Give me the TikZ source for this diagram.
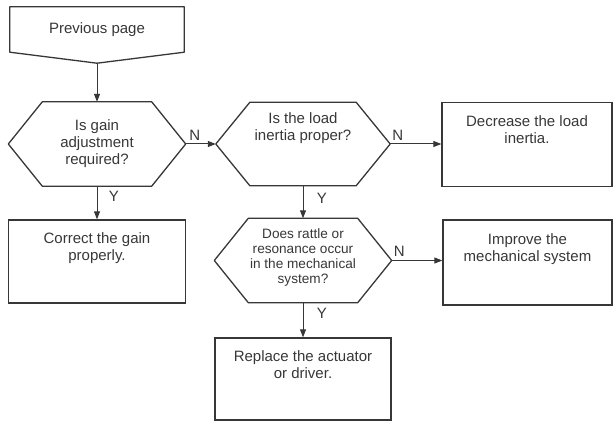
\documentclass[tikz,border=0pt]{standalone}
\usepackage{fontspec}
\setmainfont{Liberation Sans}
\usetikzlibrary{arrows.meta}
\definecolor{InkGray}{RGB}{55, 55, 55}

\begin{document}
\begin{tikzpicture}[x=1pt, y=-1pt,
        decision/.style={minimum width=177pt, minimum height=84pt, inner sep=0pt, align=center, text=InkGray, font=\fontsize{15}{17}\selectfont},
        action/.style={draw=InkGray, line width=1.3pt, minimum width=174pt, minimum height=84pt, align=center, text depth=29pt, text=InkGray, font=\fontsize{15}{17}\selectfont},
        outline/.style={line width=1.3pt, InkGray, line join=round},
        arr/.style={-{Triangle[length=8pt, width=6pt]}, line width=1pt, InkGray},
        yn/.style={font=\fontsize{15}{15}\selectfont, text=InkGray}
    ]
        \useasboundingbox (0,0) rectangle (614,422);

        % off-page connector
        \node[minimum width=174pt, minimum height=45pt, text=InkGray, font=\fontsize{15}{17}\selectfont] (prev) at (97, 29.5) {Previous page};
        \coordinate (prevtip) at ([yshift=-11pt]prev.south);
        \draw[outline] (prev.north west) -- (prev.north east) -- (prev.south east) -- (prevtip) -- (prev.south west) -- cycle;

        % decisions
        \node[decision] (q1) at (97, 144) {Is gain\\adjustment\\required?};
        \node[decision, minimum width=174pt, minimum height=83pt, text depth=35pt] (q2) at (303, 144) {Is the load\\inertia proper?};
        \node[decision, font=\fontsize{13.6}{15}\selectfont, text depth=9pt] (q3) at (303, 260.5) {Does rattle or\\resonance occur\\in the mechanical\\system?};
        \foreach \q in {q1, q2, q3}
            \draw[outline] (\q.west) -- ([xshift=34pt]\q.north west) -- ([xshift=-34pt]\q.north east)
                -- (\q.east) -- ([xshift=-34pt]\q.south east) -- ([xshift=34pt]\q.south west) -- cycle;

        % actions
        \node[action, minimum width=170pt] (decrease) at (527, 144.5) {Decrease the load\\inertia.};
        \node[action, minimum width=177pt, minimum height=83pt] (correct) at (97, 261.5) {Correct the gain\\properly.};
        \node[action, minimum width=169pt, minimum height=85pt] (improve) at (527.5, 262.5) {Improve the\\mechanical system};
        \node[action, minimum width=176pt, minimum height=82pt] (replace) at (303, 379) {Replace the actuator\\or driver.};

        \draw[arr] (prevtip) -- (q1);
        \draw[arr] (q1.east) -- node[yn, pos=0.3, above] {N} (q2.west);
        \draw[arr] (q1) -- node[yn, pos=0.3, right=8pt] {Y} (correct);
        \draw[arr] (q2.east) -- node[yn, pos=0.15, above] {N} (q2.east -| decrease.west);
        \draw[arr] (q2) -- node[yn, pos=0.4, right=10pt] {Y} (q3);
        \draw[arr] (q3.east) -- node[yn, pos=0.15, above] {N} (q3.east -| improve.west);
        \draw[arr] (q3) -- node[yn, pos=0.3, right=10pt] {Y} (replace);
    \end{tikzpicture}
\end{document}
